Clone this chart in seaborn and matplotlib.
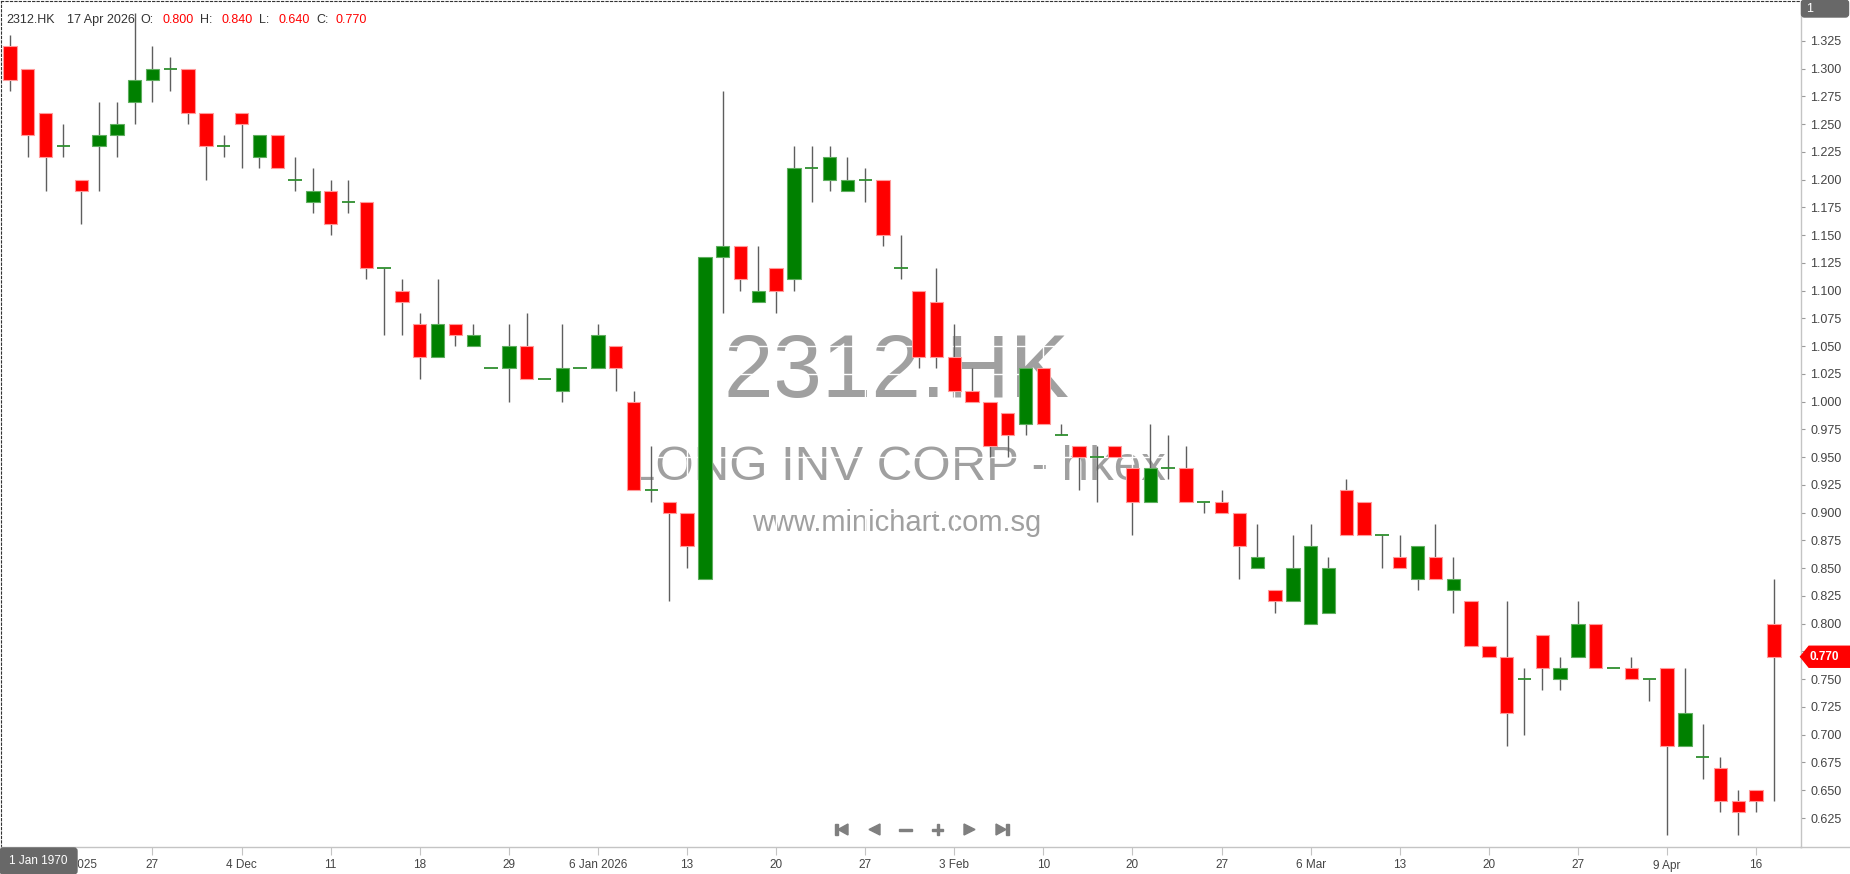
import numpy as np
import pandas as pd
import seaborn as sns
import matplotlib.pyplot as plt
from matplotlib.patches import Polygon, Rectangle, FancyBboxPatch
from matplotlib.transforms import Affine2D

# OHLC values (one entry per trading day)
opens = [1.32, 1.30, 1.26, 1.23, 1.20, 1.23, 1.24, 1.27, 1.29, 1.30,
         1.30, 1.26, 1.23, 1.26, 1.22, 1.24, 1.20, 1.18, 1.19, 1.18,
         1.18, 1.12, 1.10, 1.07, 1.04, 1.07, 1.05, 1.03, 1.03, 1.05,
         1.02, 1.01, 1.03, 1.03, 1.05, 1.00, 0.92, 0.91, 0.90, 0.84,
         1.13, 1.14, 1.09, 1.12, 1.11, 1.21, 1.20, 1.19, 1.20, 1.20,
         1.12, 1.10, 1.09, 1.04, 1.01, 1.00, 0.99, 0.98, 1.03, 0.97,
         0.96, 0.95, 0.96, 0.94, 0.91, 0.94, 0.94, 0.91, 0.91, 0.90,
         0.85, 0.83, 0.82, 0.80, 0.81, 0.92, 0.91, 0.88, 0.86, 0.84,
         0.86, 0.83, 0.82, 0.78, 0.77, 0.75, 0.79, 0.75, 0.77, 0.80,
         0.76, 0.76, 0.75, 0.76, 0.69, 0.68, 0.67, 0.64, 0.65, 0.80]
highs = [1.33, 1.30, 1.26, 1.25, 1.20, 1.27, 1.27, 1.35, 1.32, 1.31,
         1.30, 1.26, 1.24, 1.26, 1.24, 1.24, 1.22, 1.21, 1.20, 1.20,
         1.18, 1.12, 1.11, 1.08, 1.11, 1.07, 1.07, 1.03, 1.07, 1.08,
         1.02, 1.07, 1.03, 1.07, 1.05, 1.01, 0.96, 0.91, 0.90, 1.13,
         1.28, 1.14, 1.14, 1.12, 1.23, 1.23, 1.23, 1.22, 1.21, 1.20,
         1.15, 1.10, 1.12, 1.07, 1.03, 1.00, 0.99, 1.03, 1.03, 0.98,
         0.96, 0.96, 0.96, 0.94, 0.98, 0.97, 0.96, 0.91, 0.92, 0.90,
         0.89, 0.83, 0.88, 0.89, 0.86, 0.93, 0.91, 0.88, 0.88, 0.87,
         0.89, 0.86, 0.82, 0.78, 0.82, 0.76, 0.79, 0.77, 0.82, 0.80,
         0.76, 0.77, 0.75, 0.76, 0.76, 0.71, 0.68, 0.65, 0.65, 0.84]
lows = [1.28, 1.22, 1.19, 1.22, 1.16, 1.19, 1.22, 1.25, 1.27, 1.28,
        1.25, 1.20, 1.22, 1.21, 1.21, 1.21, 1.19, 1.17, 1.15, 1.17,
        1.11, 1.06, 1.06, 1.02, 1.04, 1.05, 1.05, 1.03, 1.00, 1.02,
        1.02, 1.00, 1.03, 1.03, 1.01, 0.92, 0.91, 0.82, 0.85, 0.84,
        1.08, 1.10, 1.09, 1.08, 1.10, 1.18, 1.19, 1.19, 1.18, 1.14,
        1.11, 1.03, 1.03, 1.01, 1.00, 0.95, 0.95, 0.97, 0.98, 0.97,
        0.92, 0.91, 0.95, 0.88, 0.91, 0.93, 0.91, 0.90, 0.90, 0.84,
        0.85, 0.81, 0.82, 0.80, 0.81, 0.88, 0.88, 0.85, 0.85, 0.83,
        0.84, 0.81, 0.78, 0.77, 0.69, 0.70, 0.74, 0.74, 0.77, 0.76,
        0.76, 0.75, 0.73, 0.61, 0.69, 0.66, 0.63, 0.61, 0.63, 0.64]
closes = [1.29, 1.24, 1.22, 1.23, 1.19, 1.24, 1.25, 1.29, 1.30, 1.30,
          1.26, 1.23, 1.23, 1.25, 1.24, 1.21, 1.20, 1.19, 1.16, 1.18,
          1.12, 1.12, 1.09, 1.04, 1.07, 1.06, 1.06, 1.03, 1.05, 1.02,
          1.02, 1.03, 1.03, 1.06, 1.03, 0.92, 0.92, 0.90, 0.87, 1.13,
          1.14, 1.11, 1.10, 1.10, 1.21, 1.21, 1.22, 1.20, 1.20, 1.15,
          1.12, 1.04, 1.04, 1.01, 1.00, 0.96, 0.97, 1.03, 0.98, 0.97,
          0.95, 0.95, 0.95, 0.91, 0.94, 0.94, 0.91, 0.91, 0.90, 0.87,
          0.86, 0.82, 0.85, 0.87, 0.85, 0.88, 0.88, 0.88, 0.85, 0.87,
          0.84, 0.84, 0.78, 0.77, 0.72, 0.75, 0.76, 0.76, 0.80, 0.76,
          0.76, 0.75, 0.75, 0.69, 0.72, 0.68, 0.64, 0.63, 0.64, 0.77]

tick_pos = [3, 8, 13, 18, 23, 28, 33, 38, 43, 48, 53, 58, 63, 68, 73, 78, 83, 88, 93, 98]
tick_labels = ['20 Nov 2025', '27', '4 Dec', '11', '18', '29', '6 Jan 2026', '13', '20', '27',
               '3 Feb', '10', '20', '27', '6 Mar', '13', '20', '27', '9 Apr', '16']
price_ticks = [0.625, 0.650, 0.675, 0.700, 0.725, 0.750, 0.775, 0.800, 0.825, 0.850,
               0.875, 0.900, 0.925, 0.950, 0.975, 1.000, 1.025, 1.050, 1.075, 1.100,
               1.125, 1.150, 1.175, 1.200, 1.225, 1.250, 1.275, 1.300, 1.325]
symbol = '2312.HK'
company = 'LONG INV CORP - hkex'
site = 'www.minichart.com.sg'
last_date = '17 Apr 2026'

df = pd.DataFrame({'open': opens, 'high': highs, 'low': lows, 'close': closes})
df['i'] = np.arange(len(df))
df['up'] = df['close'] > df['open']
df['doji'] = df['close'] == df['open']

sns.set_theme(style='white')
plt.rcParams['font.family'] = ['Liberation Sans', 'DejaVu Sans']

W, H = 1850, 874
fig = plt.figure(figsize=(W / 100, H / 100), dpi=100)
T = Affine2D().scale(1 / W, -1 / H).translate(0, 1) + fig.transFigure  # pixel coords, y down

ax = fig.add_axes([0.5 / W, (H - 847) / H, 1800 / W, 846 / H])
ax.set_xlim(-0.53, 100.49)
ax.set_ylim(0.5989, 1.3608)

# watermark (white grid lines run across it)
ax.text(897, 397, symbol, transform=T, ha='center', va='baseline', fontsize=64,
        color='#a0a0a0', zorder=0.2)
ax.text(897, 480, company, transform=T, ha='center', va='baseline', fontsize=35.5,
        color='#a0a0a0', zorder=0.2)
ax.text(897, 531, site, transform=T, ha='center', va='baseline', fontsize=21,
        color='#a0a0a0', zorder=0.2)
ax.set_axisbelow(True)
ax.grid(True, color='white', lw=1)

# candles
ax.vlines(df['i'], df['low'], df['high'], color='#5e5e5e', lw=1.0, zorder=2)
body = df[~df['doji']]
up = body[body['up']]
dn = body[~body['up']]
ax.bar(up['i'], up['close'] - up['open'], bottom=up['open'], width=0.75,
       color='#008000', edgecolor='#5fae5f', lw=0.8, zorder=3)
ax.bar(dn['i'], dn['open'] - dn['close'], bottom=dn['close'], width=0.75,
       color='#ff0000', edgecolor='#ff9a9a', lw=0.8, zorder=3)
dj = df[df['doji']]
ax.hlines(dj['close'], dj['i'] - 0.375, dj['i'] + 0.375, color='#2f8f2f', lw=1.3, zorder=3)

# axes styling
for s in ['left', 'top']:
    ax.spines[s].set_color('#333333')
    ax.spines[s].set_linestyle((0, (2, 2)))
    ax.spines[s].set_linewidth(0.8)
for s in ['right', 'bottom']:
    ax.spines[s].set_color('#c4c4c4')
    ax.spines[s].set_linewidth(1.0)

ax.yaxis.tick_right()
ax.set_yticks(price_ticks)
ax.set_yticklabels([f'{v:.3f}' for v in price_ticks])
ax.tick_params(axis='y', right=True, length=3, width=0.8, color='#9a9a9a', pad=4,
               labelsize=9, labelcolor='#444444')
ax.set_xticks(tick_pos)
ax.set_xticklabels(tick_labels)
ax.tick_params(axis='x', bottom=True, length=6, width=0.8, color='#c4c4c4', pad=3,
               labelsize=8.5, labelcolor='#444444')

# bottom line continues under the price scale
fig.add_artist(plt.Line2D([1800, 1850], [847, 847], transform=T, color='#c4c4c4', lw=1.0))

# header
dark, red = '#333333', '#ff0000'
o, h, l, c = opens[-1], highs[-1], lows[-1], closes[-1]
header = [(symbol, 6.7, dark), (last_date, 66.7, dark), ('O:', 140, dark), (f'{o:.3f}', 162.7, red),
          ('H:', 200, dark), (f'{h:.3f}', 221.7, red), ('L:', 259.3, dark), (f'{l:.3f}', 278.3, red),
          ('C:', 316, dark), (f'{c:.3f}', 336, red)]
for txt, x, col in header:
    fig.text(x, 23, txt, transform=T, fontsize=9, color=col, va='baseline', ha='left')

# last price marker on the scale
yc = 40.7 + (1.325 - c) * 1110
fig.add_artist(Polygon([(1800.5, yc), (1809, yc - 10.5), (1850, yc - 10.5), (1850, yc + 10.5),
                        (1809, yc + 10.5)], closed=True, transform=T, color='#ff0000', zorder=5))
fig.text(1810, yc, f'{c:.3f}', transform=T, fontsize=8.5, color='white', fontweight='bold',
         va='center', ha='left', zorder=6)

# corner boxes
fig.add_artist(FancyBboxPatch((1803, 1.5), 44, 14, boxstyle='round,pad=1.5,rounding_size=3',
                              transform=T, color='#686868', zorder=5))
fig.text(1806, 9, '1', transform=T, fontsize=9, color='white', va='center', ha='left', zorder=6)
fig.add_artist(FancyBboxPatch((2, 850), 73, 22, boxstyle='round,pad=2,rounding_size=3',
                              transform=T, color='#686868', zorder=5))
fig.text(38.5, 861, '1 Jan 1970', transform=T, fontsize=8.5, color='white', va='center',
         ha='center', zorder=6)

# navigation icons
g = '#7f7f7f'
yi = 829.5
icons = [
    Rectangle((835, 824), 2.5, 11, transform=T, color=g),
    Polygon([(848, 824), (848, 835), (838, yi)], transform=T, color=g),
    Polygon([(880, 824), (880, 835), (869, yi)], transform=T, color=g),
    Rectangle((899, 828.5), 13, 2, transform=T, color=g),
    Rectangle((932, 828.5), 11, 2, transform=T, color=g),
    Rectangle((936.5, 824), 2, 11, transform=T, color=g),
    Polygon([(964, 824), (964, 835), (975, yi)], transform=T, color=g),
    Polygon([(996, 824), (996, 835), (1006, yi)], transform=T, color=g),
    Rectangle((1006, 824), 2.5, 11, transform=T, color=g),
]
for p in icons:
    fig.add_artist(p)

fig.savefig('out.png', dpi=100)
